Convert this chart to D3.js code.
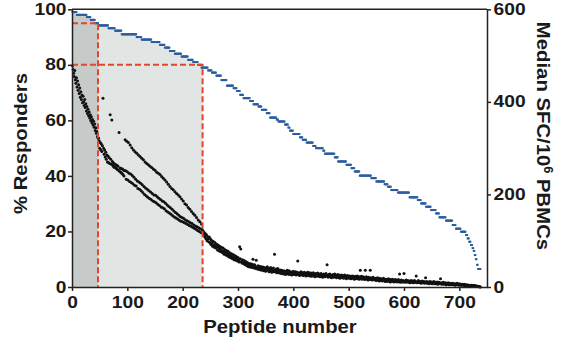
<!DOCTYPE html>
<html><head><meta charset="utf-8">
<script src="https://cdn.jsdelivr.net/npm/d3@7"></script>
<style>html,body{margin:0;padding:0;background:#fff}svg{display:block}</style>
</head><body><svg id="c" width="561" height="342"></svg>
<script>
// ---------------- DATA ----------------
const xTicks = [0, 100, 200, 300, 400, 500, 600, 700];
const leftTicks = [0, 20, 40, 60, 80, 100];
const rightTicks = [0, 200, 400, 600];

// % responders per peptide, stored as runs: last peptide of each run and its level
const respRunEnd = [8,26,33,41,47,65,77,89,116,125,143,158,167,176,185,197,209,218,227,233,
  245,252,260,269,279,291,297,303,309,321,327,336,342,351,357,369,372,384,390,393,
  399,411,416,423,435,440,453,456,474,480,495,504,510,519,540,549,564,570,576,588,
  609,624,630,639,648,657,663,675,687,693,702,711,714,717,720,723,725,727,729,731,733,738];
const respLevel = [99,98,97.2,96.2,95,94.2,93.2,92.3,91,90,89.1,88.2,87.2,86.2,85,84,83,81.8,81,80,
  79,78,77.2,76.1,74.5,72.5,71.6,70.6,69.2,68,67,65.8,65,63.8,62.6,61,60.3,59.6,58.5,57.4,
  56.3,55.1,53.9,53,52,50.8,50,49.1,48,46.7,45.2,44,42.8,41.6,40.1,39.2,38,37,36.1,34.9,
  34,32.3,31.3,30.1,28.9,27.7,26.5,25.1,23.9,22.3,21,19.9,18.7,17.5,16.3,15.1,14,13,11.5,10,8,6.5];

// Median SFC / 10^6 PBMCs per peptide (peptide 1..738)
const medianSFC = [
478,470,462,455,468,448,440,452,432,445,
425,437,418,430,410,422,405,415,398,412,
400,392,405,388,396,380,390,375,384,370,
378,365,372,360,368,355,362,350,358,345,
352,338,344,332,336,325,322,
322,316,300,312,296,309,293,305,408,300,
287,296,281,291,276,285,270,283,269,280,
267,372,276,265,361,271,262,268,259,266,
258,264,256,263,254,261,252,334,250,257,
248,256,246,255,243,253,240,251,
318,251,233,315,249,231,312,246,228,307,
244,226,301,241,223,296,237,220,292,233,
218,289,229,213,285,227,211,282,224,208,
278,221,204,275,217,200,270,214,197,267,
211,194,264,208,191,261,205,189,258,202,
186,255,199,184,252,198,182,248,195,179,
246,192,176,243,189,173,239,186,171,235,
184,169,231,181,165,227,177,162,222,174,
160,217,171,157,213,168,154,210,164,151,
206,161,149,202,158,147,199,155,144,195,
152,142,190,150,141,186,148,139,180,145,
137,177,143,135,172,141,133,168,139,131,
163,137,129,159,134,127,155,132,125,150,
130,122,145,128,120,141,126,118,136,124,
116,
121,112,118,108,115,104,113,100,109,104,
98,108,96,104,92,101,95,88,99,91,
86,96,89,84,93,87,80,91,85,78,
88,82,76,86,79,74,84,77,71,81,
75,69,79,73,67,77,70,65,74,68,
63,72,66,61,70,64,59,68,62,58,
66,60,56,64,58,54,87,61,82,55,
52,59,54,50,57,52,48,55,50,46,
53,48,44,51,47,43,50,46,42,49,
60,45,41,48,44,40,58,43,39,46,
42,38,45,41,37,44,40,36,43,39,
35,42,38,34,41,37,44,36,40,33,
39,35,42,36,32,39,35,41,33,71,
37,33,39,31,36,40,32,35,30,37,
33,29,36,31,34,28,35,30,33,27,
34,30,36,28,32,35,27,31,33,29,
26,32,29,34,27,31,28,33,26,30,
32,56,27,30,25,31,28,33,26,29,
31,25,28,32,26,29,24,30,27,32,
25,28,31,24,27,30,23,29,26,31,
24,27,22,29,25,28,23,30,26,24,
28,22,26,29,23,27,21,25,28,24,
22,26,29,23,48,25,21,27,24,28,
22,25,20,26,23,27,21,24,28,22,
25,20,24,27,21,23,26,19,24,22,
26,20,23,25,19,22,26,21,24,18,
22,25,20,23,19,24,21,18,23,20,
24,19,22,17,21,23,18,22,20,24,
18,21,17,22,36,19,23,17,20,22,
18,21,16,36,19,22,17,20,15,21,
18,16,36,20,17,15,19,21,16,18,
15,19,17,14,18,20,15,17,13,19,
16,14,18,15,13,17,19,14,16,12,
17,14,16,12,15,18,13,15,11,16,
14,12,17,13,15,11,14,16,12,14,
15,11,13,16,12,28,10,13,15,11,
13,11,14,29,12,10,13,15,11,12,
14,10,12,13,9,12,14,10,11,13,
9,12,14,10,11,24,9,12,10,14,
11,9,12,10,8,11,13,9,10,12,
8,11,20,9,12,8,10,11,7,10,
12,8,9,11,7,10,9,12,7,9,
10,7,9,11,6,8,10,7,9,18,
8,6,9,7,10,6,8,7,9,5,
7,8,6,9,5,7,6,8,5,7,
6,8,5,7,6,4,7,5,6,8,
5,6,4,7,5,6,4,5,6,4,
5,4,6,3,5,4,3,5,4,3,
4,3,4,2,3,4,2,3,2,3,
2,3,2,2,1,2,1,1,1,0.5,
0.5,0
];

// cut-off markers (peptide number, % responders)
const cutPeptide = [47, 236];
const cutPct = [95, 80];

// ---------------- CHART ----------------
const L = 72, R = 487, T = 9.3, B = 287;
const svg = d3.select('#c');
svg.append('rect').attr('width', 561).attr('height', 342).attr('fill', '#fff');

const x = d3.scaleLinear().domain([0, 750]).range([L, R]);
const yL = d3.scaleLinear().domain([0, 100]).range([B, T]);
const yR = d3.scaleLinear().domain([0, 600]).range([B, T]);

// expand runs into per-peptide responders
const resp = [];
let s = 1;
respRunEnd.forEach((e, i) => { for (let p = s; p <= e; p++) resp.push({ p, v: respLevel[i] }); s = e + 1; });

// step outline for shaded areas
const stepPts = [];
let prev = 0;
respRunEnd.forEach((e, i) => { stepPts.push({ p: i === 0 ? 0 : prev + 0.5, v: respLevel[i] }); prev = e; });
stepPts.push({ p: prev + 0.5, v: respLevel[respLevel.length - 1] });

const defs = svg.append('defs');
defs.append('clipPath').attr('id', 'clipDark').append('rect')
  .attr('x', x(0)).attr('y', 0).attr('width', x(cutPeptide[0]) - x(0)).attr('height', 342);
defs.append('clipPath').attr('id', 'clipLight').append('rect')
  .attr('x', x(cutPeptide[0])).attr('y', 0).attr('width', x(cutPeptide[1]) - x(cutPeptide[0])).attr('height', 342);

const area = d3.area().x(d => x(d.p)).y0(B).y1(d => yL(d.v)).curve(d3.curveStepAfter);
svg.append('path').datum(stepPts).attr('d', area).attr('fill', '#c6cac9').attr('clip-path', 'url(#clipDark)');
svg.append('path').datum(stepPts).attr('d', area).attr('fill', '#e1e5e4').attr('clip-path', 'url(#clipLight)');

// blue responders (stepped dashes)
svg.append('g').selectAll('rect').data(resp).join('rect')
  .attr('x', d => x(d.p) - 1).attr('y', d => yL(d.v) - 0.95)
  .attr('width', 2).attr('height', 1.9).attr('fill', '#2c5e9e');

// black dots: median SFC
svg.append('g').selectAll('circle').data(medianSFC).join('circle')
  .attr('cx', (d, i) => x(i + 1)).attr('cy', d => yR(d)).attr('r', 1.5).attr('fill', '#111');

// red dashed cut-off lines
cutPeptide.forEach((p, i) => {
  svg.append('path')
    .attr('d', `M${x(0)},${yL(cutPct[i])}H${x(p)}V${B}`)
    .attr('fill', 'none').attr('stroke', '#e8432b').attr('stroke-width', 2)
    .attr('stroke-dasharray', '6,3');
});

// axes
const fontFam = '"Liberation Sans", Arial, Helvetica, sans-serif';
function styleAxis(g) {
  g.selectAll('path.domain').attr('stroke', '#222').attr('stroke-width', 1.5);
  g.selectAll('.tick line').attr('stroke', '#222').attr('stroke-width', 1.5);
  g.selectAll('.tick text').attr('fill', '#1a1a1a').attr('font-family', fontFam)
    .attr('font-weight', 'bold').attr('font-size', 16);
}
const gx = svg.append('g').attr('transform', `translate(0,${B})`)
  .call(d3.axisBottom(x).tickValues(xTicks).tickSize(4).tickSizeOuter(0).tickPadding(6));
styleAxis(gx);
gx.selectAll('.tick text').attr('transform', 'scale(1.2,1)');

const gl = svg.append('g').attr('transform', `translate(${L},0)`)
  .call(d3.axisLeft(yL).tickValues(leftTicks).tickSize(4).tickSizeOuter(0).tickPadding(2));
styleAxis(gl);
gl.selectAll('.tick text').attr('x', -4.6).attr('transform', 'scale(1.2,1)');

const gr = svg.append('g').attr('transform', `translate(${R},0)`)
  .call(d3.axisRight(yR).tickValues(rightTicks).tickSize(4).tickSizeOuter(0).tickPadding(2));
styleAxis(gr);
gr.selectAll('.tick text').attr('x', 5.5).attr('transform', 'scale(1.2,1)');

// top frame line
svg.append('line').attr('x1', L).attr('x2', R).attr('y1', T).attr('y2', T)
  .attr('stroke', '#222').attr('stroke-width', 1.5);

// titles
function title(tf, txt) {
  return svg.append('g').attr('transform', tf).append('text')
    .attr('text-anchor', 'middle').attr('font-family', fontFam).attr('font-weight', 'bold')
    .attr('font-size', 19).attr('fill', '#1a1a1a').text(txt);
}
title('translate(280,333) scale(1.07,1)', 'Peptide number');
title('translate(27,143.5) rotate(-90) scale(1.07,1)', '% Responders');
const rt = title('translate(537,136) rotate(90) scale(1.07,1)', '');
rt.append('tspan').text('Median SFC/10');
rt.append('tspan').attr('font-size', 12).attr('dy', -7).text('6');
rt.append('tspan').attr('dy', 7).text(' PBMCs');
</script></body></html>
